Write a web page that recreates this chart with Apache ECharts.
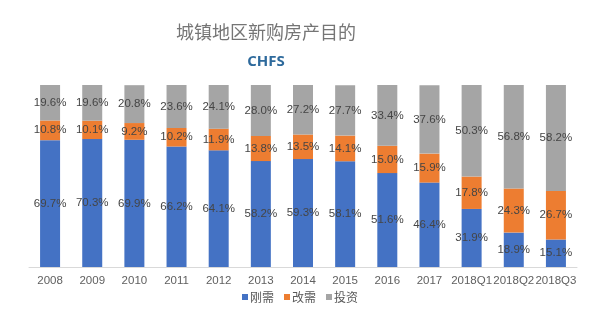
<!DOCTYPE html>
<html><head><meta charset="utf-8">
<script src="https://cdn.jsdelivr.net/npm/echarts@6/dist/echarts.min.js"></script>
<style>html,body{margin:0;padding:0;background:#fff}#c{width:600px;height:314px}</style>
</head><body><div id="c"></div>
<script>
const categories = ['2008','2009','2010','2011','2012','2013','2014','2015','2016','2017','2018Q1','2018Q2','2018Q3'];
const rigid = [69.7,70.3,69.9,66.2,64.1,58.2,59.3,58.1,51.6,46.4,31.9,18.9,15.1];
const improve = [10.8,10.1,9.2,10.2,11.9,13.8,13.5,14.1,15.0,15.9,17.8,24.3,26.7];
const invest = [19.6,19.6,20.8,23.6,24.1,28.0,27.2,27.7,33.4,37.6,50.3,56.8,58.2];
const seriesNames = ['刚需','改需','投资'];
const colors = ['#4472C4','#ED7D31','#A5A5A5'];

const chart = echarts.init(document.getElementById('c'));
const lbl = {show:true, position:'inside', color:'#454545', fontSize:11.5, fontFamily:'Liberation Sans, Arial', formatter: p => p.value.toFixed(1) + '%'};
chart.setOption({
  animation:false,
  title:[
    {text:'城镇地区新购房产目的', left:261, top:18, textAlign:'center', textStyle:{fontSize:18, fontWeight:'normal', color:'#757575', fontFamily:'Noto Sans CJK SC'}},
    {text:'CHFS', left:261, top:49, textAlign:'center', textStyle:{fontSize:15, fontWeight:'bold', color:'#2E6A9C', fontFamily:'Open Sans'}}
  ],
  legend:{data:seriesNames, bottom:6, left:'center', itemWidth:6, itemHeight:6, itemGap:10, icon:'rect', textStyle:{fontSize:12, color:'#595959', fontFamily:'Noto Sans CJK SC', padding:[0,0,0,-3]}},
  grid:{left:29, right:23, top:85, bottom:47},
  xAxis:{type:'category', data:categories, axisTick:{show:false}, axisLine:{lineStyle:{color:'#D9D9D9'}}, axisLabel:{color:'#606060', fontSize:11.5, interval:0, margin:8, fontFamily:'Liberation Sans, Arial'}},
  yAxis:{type:'value', min:0, max:100, show:false},
  series:[
    {name:seriesNames[0], type:'bar', stack:'a', data:rigid, barWidth:20, itemStyle:{color:colors[0]}, label:lbl},
    {name:seriesNames[1], type:'bar', stack:'a', data:improve, barWidth:20, itemStyle:{color:colors[1]}, label:lbl},
    {name:seriesNames[2], type:'bar', stack:'a', data:invest, barWidth:20, itemStyle:{color:colors[2]}, label:lbl}
  ]
});
</script></body></html>
